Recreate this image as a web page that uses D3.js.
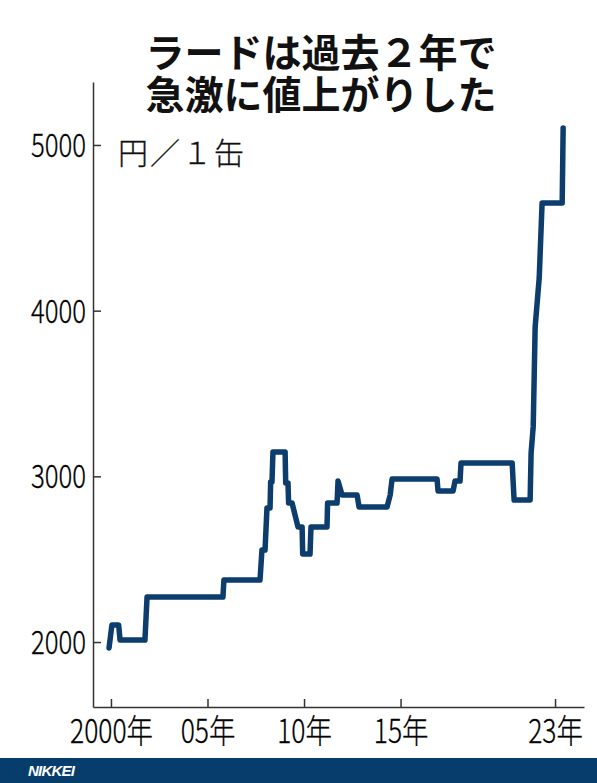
<!DOCTYPE html>
<html><head><meta charset="utf-8">
<script src="https://cdn.jsdelivr.net/npm/d3@7/dist/d3.min.js"></script>
<style>
html,body{margin:0;padding:0;background:#fff;}
svg{display:block;}
</style></head>
<body>
<svg id="chart" width="597" height="783"></svg>
<script>
// ---- data ----
const titleLines = ["ラードは過去２年で", "急激に値上がりした"];
const unitLabel = "円／１缶";
const years  = [1999.9, 2000.05, 2000.4, 2000.47, 2001.76, 2001.87, 2005.8, 2005.85, 2007.72, 2007.82, 2007.98, 2008.08, 2008.24, 2008.27, 2008.34, 2008.39, 2009.02, 2009.05, 2009.17, 2009.2, 2009.38, 2009.69, 2009.9, 2009.93, 2010.31, 2010.36, 2011.19, 2011.22, 2011.71, 2011.76, 2011.97, 2012.75, 2012.85, 2014.3, 2014.46, 2014.56, 2016.89, 2016.94, 2017.72, 2017.82, 2018.08, 2018.13, 2020.78, 2020.88, 2021.71, 2021.76, 2021.87, 2021.97, 2022.18, 2022.33, 2023.37, 2023.42];
const prices = [1964, 2103, 2103, 2012, 2012, 2272, 2272, 2374, 2374, 2555, 2555, 2809, 2809, 2966, 2966, 3147, 3147, 2960, 2960, 2839, 2839, 2694, 2694, 2531, 2531, 2694, 2694, 2839, 2839, 2972, 2887, 2887, 2815, 2815, 2887, 2984, 2984, 2911, 2911, 2972, 2972, 3080, 3080, 2857, 2857, 3141, 3300, 3901, 4197, 4650, 4650, 5103];
const xTickValues = [2000, 2005, 2010, 2015, 2023];
const xTickLabels = ["2000年", "05年", "10年", "15年", "23年"];
const yTickValues = [2000, 3000, 4000, 5000];
const yTickLabels = ["2000", "3000", "4000", "5000"];
const footerLabel = "NIKKEI";

// ---- drawing ----
const svg = d3.select("#chart");
const x = d3.scaleLinear().domain([1999.07, 2024.5]).range([93, 584]);
const y = d3.scaleLinear().domain([1608, 5380]).range([707, 82]);
const font = "'Noto Sans CJK JP','Noto Sans',sans-serif";

// title (single text element, two lines)
svg.append("text")
  .attr("text-anchor", "middle")
  .attr("font-family", font).attr("font-weight", 700).attr("font-size", 39)
  .attr("fill", "#111")
  .selectAll("tspan").data(titleLines).join("tspan")
  .attr("x", 321).attr("y", (d,i) => 67 + i*42)
  .text(d => d);

// y axis
const yAxis = d3.axisLeft(y).tickValues(yTickValues)
  .tickFormat((d,i) => yTickLabels[i]).tickSizeInner(-8).tickSizeOuter(0).tickPadding(9);
const gy = svg.append("g").attr("transform", "translate(93,0)").call(yAxis);
gy.select(".domain").attr("stroke", "#333").attr("stroke-width", 1.5);
gy.selectAll(".tick line").attr("stroke", "#333").attr("stroke-width", 1.5);
gy.selectAll(".tick text")
  .attr("font-family", font).attr("font-size", 33).attr("font-weight", 300).attr("fill", "#000")
  .attr("stroke", "#000").attr("stroke-width", 0.3)
  .attr("dy", "0.35em")
  .attr("transform", "scale(0.78,1)");

// x axis
const xAxis = d3.axisBottom(x).tickValues(xTickValues)
  .tickFormat((d,i) => xTickLabels[i]).tickSizeInner(-8).tickSizeOuter(0).tickPadding(12);
const gx = svg.append("g").attr("transform", "translate(0,707)").call(xAxis);
gx.select(".domain").attr("stroke", "#333").attr("stroke-width", 1.5);
gx.selectAll(".tick line").attr("stroke", "#333").attr("stroke-width", 1.5);
gx.selectAll(".tick text")
  .attr("font-family", font).attr("font-size", 33).attr("font-weight", 300).attr("fill", "#000")
  .attr("stroke", "#000").attr("stroke-width", 0.3)
  .attr("dy", "0.72em")
  .attr("transform", "scale(0.8,1)")
  .attr("x", 0);

// unit label
svg.append("text").attr("x", 118).attr("y", 164)
  .attr("font-family", font).attr("font-size", 30).attr("font-weight", 300).attr("fill", "#111")
  .attr("stroke", "#111").attr("stroke-width", 0.3)
  .attr("letter-spacing", 2)
  .text(unitLabel);

// line
const pts = years.map((yr, i) => [yr, prices[i]]);
svg.append("path").datum(pts)
  .attr("fill", "none").attr("stroke", "#0d3d6c").attr("stroke-width", 5.5)
  .attr("stroke-linejoin", "round").attr("stroke-linecap", "round")
  .attr("d", d3.line().x(d => x(d[0])).y(d => y(d[1])));

// footer
svg.append("rect").attr("x", 0).attr("y", 758).attr("width", 597).attr("height", 25).attr("fill", "#063d6d");
svg.append("text").attr("x", 28).attr("y", 776)
  .attr("font-family", "'Liberation Sans',Arial,sans-serif").attr("font-weight", 700)
  .attr("font-style", "italic").attr("font-size", 15).attr("fill", "#fff")
  .attr("letter-spacing", -0.8)
  .text(footerLabel);
</script>
</body></html>
